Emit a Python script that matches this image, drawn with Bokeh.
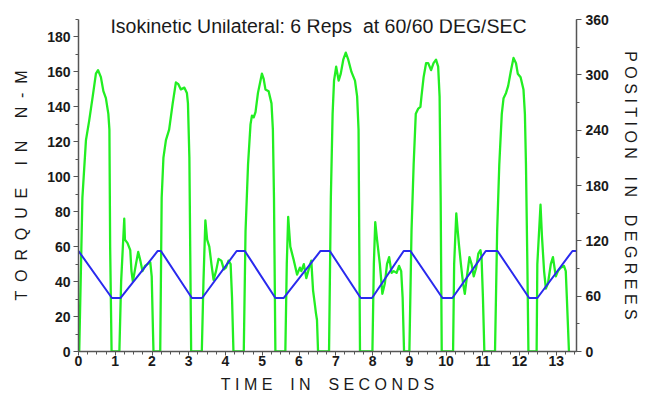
from bokeh.plotting import figure
from bokeh.models import Range1d, LinearAxis, SingleIntervalTicker, Label
from bokeh.embed import file_html
from bokeh.resources import INLINE

# ---- data ----
time_s = [0, 0.02, 0.106, 0.203, 0.29, 0.387, 0.474, 0.532, 0.609, 0.677, 0.745, 0.812, 0.841, 0.861, 0.90,
          1.112, 1.16, 1.245, 1.263, 1.334, 1.408, 1.441, 1.48, 1.563, 1.625, 1.683, 1.741, 1.808, 1.876, 1.953, 1.992, 2.026, 2.04,
          2.224, 2.263, 2.311, 2.379, 2.466, 2.563, 2.65, 2.717, 2.785, 2.882, 2.949, 2.978, 3.017, 3.065,
          3.355, 3.40, 3.452, 3.50, 3.559, 3.617, 3.675, 3.742, 3.81, 3.887, 3.955, 4.013, 4.081, 4.139, 4.177, 4.216,
          4.497, 4.545, 4.613, 4.68, 4.719, 4.767, 4.816, 4.883, 4.951, 4.99, 5.038, 5.086, 5.173, 5.251, 5.289, 5.319, 5.357,
          5.628, 5.667, 5.705, 5.763, 5.86, 5.947, 6.024, 6.063, 6.131, 6.198, 6.276, 6.334, 6.382, 6.431, 6.46, 6.489, 6.518,
          6.817, 6.866, 6.914, 6.953, 7.011, 7.078, 7.136, 7.204, 7.272, 7.34, 7.427, 7.523, 7.581, 7.62, 7.659,
          7.997, 8.036, 8.074, 8.123, 8.20, 8.268, 8.336, 8.394, 8.452, 8.519, 8.577, 8.655, 8.722, 8.78, 8.819, 8.858,
          9.003, 9.061, 9.119, 9.177, 9.245, 9.303, 9.332, 9.39, 9.457, 9.515, 9.593, 9.66, 9.728, 9.786, 9.825, 9.854, 9.883,
          10.192, 10.221, 10.279, 10.318, 10.357, 10.405, 10.463, 10.511, 10.569, 10.637, 10.695, 10.753, 10.821, 10.879, 10.937, 10.966, 11.004, 11.043,
          11.333, 11.391, 11.449, 11.517, 11.565, 11.633, 11.691, 11.768, 11.836, 11.904, 11.952, 12.029, 12.107, 12.146, 12.175, 12.213, 12.242,
          12.465, 12.484, 12.571, 12.61, 12.668, 12.716, 12.774, 12.851, 12.909, 12.987, 13.045, 13.122, 13.209, 13.258, 13.287, 13.345]
torque_nm = [0, 0, 88, 121, 132, 146, 159, 161, 157, 149, 145, 136, 127, 60, 0,
             0, 40, 76, 64, 62, 58, 46, 40, 50, 57, 52, 46, 49, 50, 51, 43, 12, 0,
             0, 88, 111, 121, 127, 142, 154, 153, 150, 151, 148, 142, 111, 0,
             0, 40, 75, 64, 60, 50, 41, 46, 53, 52, 47, 48, 52, 50, 31, 0,
             0, 69, 107, 130, 135, 134, 137, 148, 155, 159, 156, 150, 149, 142, 127, 88, 0,
             0, 50, 77, 60, 52, 44, 48, 46, 50, 42, 48, 52, 35, 27, 22, 18, 0,
             0, 88, 136, 155, 163, 155, 159, 167, 171, 167, 160, 155, 146, 127, 0,
             0, 50, 74, 64, 50, 33, 39, 50, 54, 45, 46, 45, 49, 46, 31, 0,
             0, 69, 107, 136, 139, 140, 146, 157, 165, 165, 161, 165, 167, 163, 146, 88, 0,
             0, 50, 79, 69, 60, 50, 39, 33, 43, 54, 50, 43, 48, 56, 58, 54, 31, 0,
             0, 69, 107, 136, 145, 148, 152, 161, 168, 165, 159, 157, 150, 136, 107, 50, 0,
             0, 50, 84, 66, 46, 36, 39, 50, 54, 43, 46, 48, 49, 46, 31, 0]

pos_time_s = [0, 0.909, 1.141, 2.156, 2.243, 3.085, 3.365, 4.303, 4.526, 5.357, 5.58, 6.585, 6.837,
              7.678, 7.987, 8.848, 9.032, 9.902, 10.173, 11.082, 11.401, 12.262, 12.484, 13.44, 13.55]
position_deg = [109, 58, 58, 109, 109, 58, 58, 109, 109, 58, 58, 109, 109,
                58, 58, 109, 109, 58, 58, 109, 109, 58, 58, 109, 109]

NB = "\u00a0"
title_text = "Isokinetic Unilateral: 6 Reps" + NB + NB + "at 60/60 DEG/SEC"

def spaced(s, gap, wgap):
    words = s.split(" ")
    return (NB * wgap).join((NB * gap).join(w) for w in words)

x_label = spaced("TIME IN SECONDS", 1, 4)
y_label = spaced("TORQUE IN N-M", 2, 5)
y2_label = spaced("POSITION IN DEGREES", 1, 4)

FONT = "Liberation Sans"
AXIS_COL = "#555555"
TXT_COL = "#1a1a1a"

p = figure(width=644, height=398, x_range=Range1d(0, 13.55), y_range=Range1d(0, 190),
           output_backend="svg", toolbar_location=None,
           min_border_left=78, min_border_right=68, min_border_top=19, min_border_bottom=47)
p.extra_y_ranges = {"pos": Range1d(0, 360)}
p.outline_line_color = None
p.xgrid.visible = False
p.ygrid.visible = False
p.background_fill_color = "white"
p.border_fill_color = "white"

p.line(time_s, torque_nm, color="#22ee22", line_width=2.3, line_join="round")
p.line(pos_time_s, position_deg, y_range_name="pos", color="#2a2aee", line_width=2, line_join="round")

right = LinearAxis(y_range_name="pos")
p.add_layout(right, "right")

p.xaxis.ticker = SingleIntervalTicker(interval=1, num_minor_ticks=4)
p.yaxis[0].ticker = SingleIntervalTicker(interval=20, num_minor_ticks=2)
right.ticker = SingleIntervalTicker(interval=60, num_minor_ticks=2)

for ax in [p.xaxis[0], p.yaxis[0], right]:
    ax.axis_line_color = AXIS_COL
    ax.axis_line_width = 1.5
    ax.major_tick_line_color = AXIS_COL
    ax.minor_tick_line_color = AXIS_COL
    ax.major_tick_out = 5
    ax.major_tick_in = 0
    ax.minor_tick_out = 3
    ax.minor_tick_in = 0
    ax.major_label_text_font = FONT
    ax.major_label_text_font_style = "bold"
    ax.major_label_text_font_size = "14px"
    ax.major_label_text_color = TXT_COL
    ax.axis_label_text_font = FONT
    ax.axis_label_text_font_style = "normal"
    ax.axis_label_text_font_size = "16px"
    ax.axis_label_text_color = TXT_COL

p.xaxis.major_tick_out = 4
p.xaxis.axis_label = x_label
p.yaxis[0].axis_label = y_label
right.axis_label = y2_label
p.xaxis.axis_label_standoff = 7
p.yaxis[0].axis_label_standoff = 14
right.axis_label_standoff = 10
p.xaxis.major_label_standoff = 0
p.yaxis[0].major_label_standoff = 3
right.major_label_standoff = 4

p.add_layout(Label(x=6.53, y=186.5, text=title_text, text_align="center", text_baseline="middle",
                   text_font=FONT, text_font_size="19.5px", text_color=TXT_COL))

open("out.html", "w").write(file_html(p, INLINE))
